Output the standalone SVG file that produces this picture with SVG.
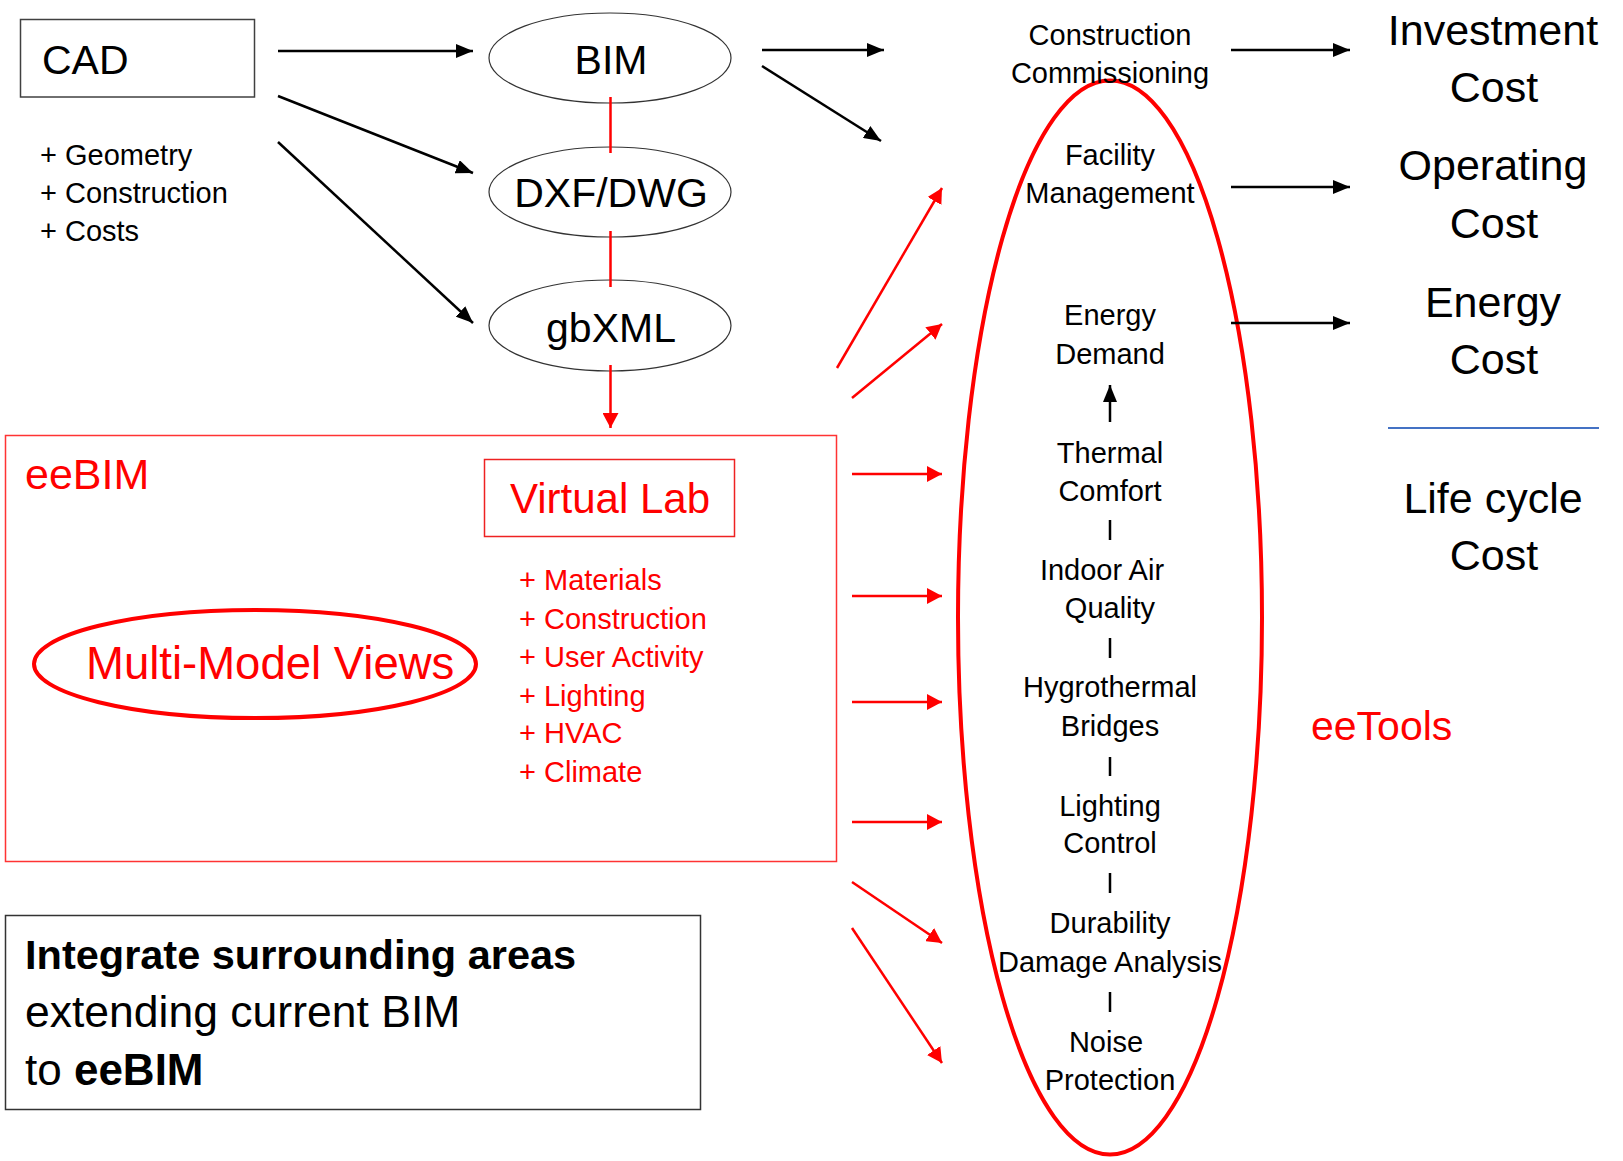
<svg xmlns="http://www.w3.org/2000/svg" width="1623" height="1161" viewBox="0 0 1623 1161">
<defs>
<style>
text{font-family:"Liberation Sans",Arial,sans-serif;}
.blk{fill:#000;}
.red{fill:#FF0000;}
.mid{text-anchor:middle;}
.s29{font-size:29px;}
.s41{font-size:41px;}
.s43{font-size:43px;}
.ab{stroke:#000;stroke-width:2.5;fill:none;}
.ar{stroke:#FF0000;stroke-width:2.5;fill:none;}
.bar{stroke:#000;stroke-width:2.5;}
</style>
<marker id="mb" markerUnits="userSpaceOnUse" markerWidth="18" markerHeight="14" refX="17" refY="7" orient="auto">
<path d="M0,0 L17,7 L0,14 z" fill="#000"/>
</marker>
<marker id="mr" markerUnits="userSpaceOnUse" markerWidth="16" markerHeight="16" refX="15" refY="8" orient="auto">
<path d="M0,0 L15,8 L0,16 z" fill="#FF0000"/>
</marker>
</defs>
<rect width="1623" height="1161" fill="#fff"/>

<g id="cad">
<rect x="20.5" y="19.5" width="234" height="77.5" fill="none" stroke="#404040" stroke-width="1.5"/>
<text x="42" y="74" class="blk s41">CAD</text>
</g>
<g id="cad-props">
<text x="40" y="165" class="blk s29">+ Geometry</text>
<text x="40" y="203" class="blk s29">+ Construction</text>
<text x="40" y="241" class="blk s29">+ Costs</text>
</g>
<g id="bim">
<ellipse cx="610" cy="58" rx="121" ry="45" fill="none" stroke="#333" stroke-width="1.2"/>
<text x="611" y="74" class="blk s41 mid">BIM</text>
</g>
<g id="dxf">
<ellipse cx="610" cy="192" rx="121" ry="45" fill="none" stroke="#333" stroke-width="1.2"/>
<text x="611" y="207" class="blk s41 mid">DXF/DWG</text>
</g>
<g id="gbxml">
<ellipse cx="610" cy="325.5" rx="121" ry="45.5" fill="none" stroke="#333" stroke-width="1.2"/>
<text x="611" y="342" class="blk s41 mid">gbXML</text>
</g>

<g id="eebim">
<rect x="5.5" y="435.5" width="831" height="426" fill="none" stroke="#FF3333" stroke-width="1.5"/>
<text x="25" y="489" class="red" font-size="43">eeBIM</text>
</g>
<g id="virtual-lab">
<rect x="484.5" y="459.5" width="250" height="77" fill="none" stroke="#EE2222" stroke-width="1.5"/>
<text x="610" y="513" class="red mid" font-size="42">Virtual Lab</text>
</g>
<g id="virtual-lab-props">
<text x="519" y="590" class="red s29">+ Materials</text>
<text x="519" y="629" class="red s29">+ Construction</text>
<text x="519" y="667" class="red s29">+ User Activity</text>
<text x="519" y="706" class="red s29">+ Lighting</text>
<text x="519" y="743" class="red s29">+ HVAC</text>
<text x="519" y="782" class="red s29">+ Climate</text>
</g>
<g id="multi-model">
<ellipse cx="255" cy="664" rx="221" ry="54" fill="none" stroke="#FF0000" stroke-width="4"/>
<text x="86" y="679" class="red" font-size="45.5">Multi-Model Views</text>
</g>

<g id="integrate">
<rect x="5.5" y="915.5" width="695" height="194" fill="none" stroke="#333" stroke-width="1.5"/>
<text x="25" y="969" class="blk" font-size="41.5" font-weight="bold">Integrate surrounding areas</text>
<text x="25" y="1027" class="blk" font-size="44.5">extending current BIM</text>
<text x="25" y="1085" class="blk" font-size="44">to <tspan font-weight="bold">eeBIM</tspan></text>
</g>

<g id="eetools">
<ellipse cx="1110" cy="617.5" rx="152" ry="537" fill="none" stroke="#FF0000" stroke-width="4"/>
<text x="1110" y="45" class="blk s29 mid">Construction</text>
<text x="1110" y="83" class="blk s29 mid">Commissioning</text>
<text x="1110" y="165" class="blk s29 mid">Facility</text>
<text x="1110" y="203" class="blk s29 mid">Management</text>
<text x="1110" y="325" class="blk s29 mid">Energy</text>
<text x="1110" y="364" class="blk s29 mid">Demand</text>
<text x="1110" y="463" class="blk s29 mid">Thermal</text>
<text x="1110" y="501" class="blk s29 mid">Comfort</text>
<text x="1102" y="580" class="blk s29 mid">Indoor Air</text>
<text x="1110" y="618" class="blk s29 mid">Quality</text>
<text x="1110" y="697" class="blk s29 mid">Hygrothermal</text>
<text x="1110" y="736" class="blk s29 mid">Bridges</text>
<text x="1110" y="816" class="blk s29 mid">Lighting</text>
<text x="1110" y="853" class="blk s29 mid">Control</text>
<text x="1110" y="933" class="blk s29 mid">Durability</text>
<text x="1110" y="972" class="blk s29 mid">Damage Analysis</text>
<text x="1106" y="1052" class="blk s29 mid">Noise</text>
<text x="1110" y="1090" class="blk s29 mid">Protection</text>
<text x="1311" y="740" class="red" font-size="41">eeTools</text>
</g>

<g id="costs">
<text x="1493" y="45" class="blk s43 mid">Investment</text>
<text x="1494" y="102" class="blk s43 mid">Cost</text>
<text x="1493" y="180" class="blk s43 mid">Operating</text>
<text x="1494" y="238" class="blk s43 mid">Cost</text>
<text x="1493" y="317" class="blk s43 mid">Energy</text>
<text x="1494" y="374" class="blk s43 mid">Cost</text>
<line x1="1388" y1="428" x2="1599" y2="428" stroke="#4472C4" stroke-width="2"/>
<text x="1493" y="513" class="blk s43 mid">Life cycle</text>
<text x="1494" y="570" class="blk s43 mid">Cost</text>
</g>

<g id="connectors">
<line class="ab" x1="278" y1="51" x2="473" y2="51" marker-end="url(#mb)"/>
<line class="ab" x1="278" y1="96" x2="473" y2="173" marker-end="url(#mb)"/>
<line class="ab" x1="278" y1="142" x2="473" y2="323" marker-end="url(#mb)"/>
<line class="ab" x1="762" y1="50" x2="884" y2="50" marker-end="url(#mb)"/>
<line class="ab" x1="762" y1="66" x2="881" y2="141" marker-end="url(#mb)"/>
<line class="ab" x1="1231" y1="50" x2="1350" y2="50" marker-end="url(#mb)"/>
<line class="ab" x1="1231" y1="187" x2="1350" y2="187" marker-end="url(#mb)"/>
<line class="ab" x1="1231" y1="323" x2="1350" y2="323" marker-end="url(#mb)"/>
<line class="ab" x1="1110" y1="422" x2="1110" y2="385" stroke-width="2" marker-end="url(#mb)"/>

<line class="ar" x1="610.5" y1="97" x2="610.5" y2="153" stroke-width="2"/>
<line class="ar" x1="610.5" y1="231" x2="610.5" y2="287" stroke-width="2"/>
<line class="ar" x1="610.5" y1="365" x2="610.5" y2="428" stroke-width="2" marker-end="url(#mr)"/>

<line class="ar" x1="837" y1="368" x2="942" y2="188" marker-end="url(#mr)"/>
<line class="ar" x1="852" y1="398" x2="942" y2="324" marker-end="url(#mr)"/>
<line class="ar" x1="852" y1="474" x2="942" y2="474" marker-end="url(#mr)"/>
<line class="ar" x1="852" y1="596" x2="942" y2="596" marker-end="url(#mr)"/>
<line class="ar" x1="852" y1="702" x2="942" y2="702" marker-end="url(#mr)"/>
<line class="ar" x1="852" y1="822" x2="942" y2="822" marker-end="url(#mr)"/>
<line class="ar" x1="852" y1="882" x2="942" y2="943" marker-end="url(#mr)"/>
<line class="ar" x1="852" y1="928" x2="942" y2="1063" marker-end="url(#mr)"/>

<line class="bar" x1="1110" y1="520" x2="1110" y2="540"/>
<line class="bar" x1="1110" y1="638" x2="1110" y2="658"/>
<line class="bar" x1="1110" y1="757" x2="1110" y2="776"/>
<line class="bar" x1="1110" y1="873" x2="1110" y2="893"/>
<line class="bar" x1="1110" y1="992" x2="1110" y2="1012"/>
</g>
</svg>
